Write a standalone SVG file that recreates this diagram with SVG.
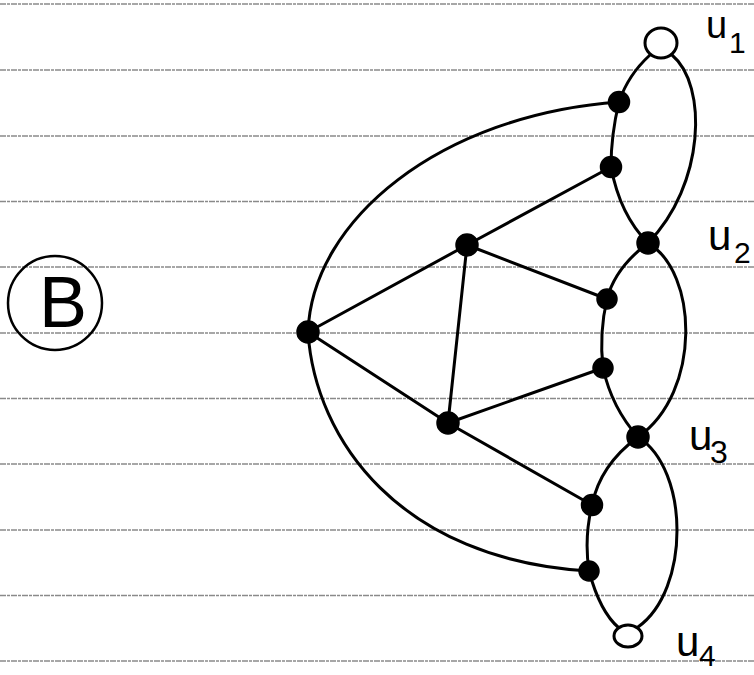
<svg xmlns="http://www.w3.org/2000/svg" width="754" height="675" viewBox="0 0 754 675">
<style>
.rule{stroke:#8a8a8a;stroke-width:1.3;stroke-dasharray:6 1 3 1}
.e{fill:none;stroke:#000;stroke-width:3;stroke-linecap:round}
.v{fill:#000;stroke:#000;stroke-width:1.5}
.o{fill:#fff;stroke:#000;stroke-width:3}
.lbl{font-family:"Liberation Sans",Arial,sans-serif;fill:#000}
</style>
<rect width="754" height="675" fill="#fff"/>
<g id="paper-rules">
<line class="rule" x1="0" y1="4" x2="754" y2="4"/>
<line class="rule" x1="0" y1="70" x2="754" y2="70"/>
<line class="rule" x1="0" y1="136" x2="754" y2="136"/>
<line class="rule" x1="0" y1="201.5" x2="754" y2="201.5"/>
<line class="rule" x1="0" y1="267" x2="754" y2="267"/>
<line class="rule" x1="0" y1="333" x2="754" y2="333"/>
<line class="rule" x1="0" y1="398.5" x2="754" y2="398.5"/>
<line class="rule" x1="0" y1="464" x2="754" y2="464"/>
<line class="rule" x1="0" y1="530" x2="754" y2="530"/>
<line class="rule" x1="0" y1="595.5" x2="754" y2="595.5"/>
<line class="rule" x1="0" y1="661" x2="754" y2="661"/>
</g>
<g id="title">
<ellipse cx="55" cy="303" rx="47" ry="47" fill="none" stroke="#000" stroke-width="2.5"/>
<text class="lbl" x="63" y="327" font-size="72" text-anchor="middle">B</text>
</g>
<g id="connectors">
<path class="e" d="M308,332 C312,220 440,115 619,102"/>
<path class="e" d="M308,332 C315,440 400,560 589,571"/>
<path class="e" d="M308,332 L467,245"/>
<path class="e" d="M308,332 L448,423"/>
<path class="e" d="M467,245 L611,167"/>
<path class="e" d="M467,245 L607,299"/>
<path class="e" d="M467,245 L448,423"/>
<path class="e" d="M448,423 L603,368" stroke-width="4.5"/>
<path class="e" d="M448,423 L592,505"/>
<path class="e" d="M650,55 Q628,75 619,102"/>
<path class="e" d="M619,102 Q611,135 611,167"/>
<path class="e" d="M611,167 Q620,215 648,243"/>
<path class="e" d="M672,55 C708,85 705,185 648,243"/>
<path class="e" d="M648,243 Q615,268 607,299"/>
<path class="e" d="M607,299 Q599,333 603,368"/>
<path class="e" d="M603,368 Q612,408 638,437"/>
<path class="e" d="M648,243 C698,272 702,392 638,437"/>
<path class="e" d="M638,437 Q600,465 592,505"/>
<path class="e" d="M592,505 Q584,538 589,571"/>
<path class="e" d="M589,571 Q600,612 619,628"/>
<path class="e" d="M638,437 C690,470 690,590 638,627"/>
</g>
<g id="u1"><ellipse class="o" cx="661" cy="43" rx="16" ry="15"/>
<text class="lbl" x="706" y="38" font-size="38">u</text><text class="lbl" x="729" y="53" font-size="30">1</text></g>
<g id="a"><circle class="v" cx="619" cy="102" r="10.5"/></g>
<g id="b"><circle class="v" cx="611" cy="167" r="10.5"/></g>
<g id="u2"><circle class="v" cx="648" cy="243" r="11"/>
<text class="lbl" x="708" y="250" font-size="42">u</text><text class="lbl" x="734" y="263" font-size="30">2</text></g>
<g id="c"><circle class="v" cx="607" cy="299" r="10"/></g>
<g id="d"><circle class="v" cx="603" cy="368" r="10"/></g>
<g id="u3"><circle class="v" cx="638" cy="437" r="11"/>
<text class="lbl" x="689" y="450" font-size="42">u</text><text class="lbl" x="710" y="463" font-size="32">3</text></g>
<g id="e"><circle class="v" cx="592" cy="505" r="10.5"/></g>
<g id="f"><circle class="v" cx="589" cy="571" r="10"/></g>
<g id="u4"><ellipse class="o" cx="628" cy="636" rx="14" ry="11"/>
<text class="lbl" x="676" y="656" font-size="42">u</text><text class="lbl" x="699" y="666" font-size="30">4</text></g>
<g id="l"><circle class="v" cx="308" cy="332" r="11"/></g>
<g id="t"><circle class="v" cx="467" cy="245" r="11"/></g>
<g id="bt"><circle class="v" cx="448" cy="423" r="11"/></g>
</svg>
